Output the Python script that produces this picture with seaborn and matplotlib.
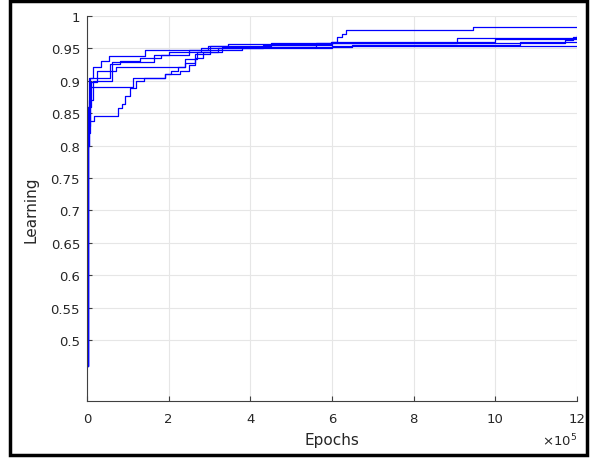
import numpy as np
import pandas as pd
import seaborn as sns
import matplotlib.pyplot as plt
from matplotlib import ticker
from matplotlib.patches import Rectangle

# Training runs (epochs, learning)
run1_x = [0, 2e3, 6e3, 15e3, 35e3, 55e3, 142e3, 296e3, 345e3, 598e3, 612e3, 625e3, 634e3, 945e3, 1.2e6]
run1_y = [0.46, 0.86, 0.905, 0.922, 0.930, 0.939, 0.947, 0.953, 0.957, 0.960, 0.967, 0.972, 0.979, 0.983, 0.983]

run2_x = [0, 2e3, 8e3, 56e3, 80e3, 130e3, 180e3, 250e3, 300e3, 450e3, 905e3, 1.2e6]
run2_y = [0.46, 0.83, 0.905, 0.926, 0.930, 0.935, 0.940, 0.948, 0.953, 0.958, 0.966, 0.971]

run3_x = [0, 2e3, 10e3, 25e3, 70e3, 240e3, 270e3, 330e3, 560e3, 1.17e6, 1.19e6, 1.2e6]
run3_y = [0.46, 0.86, 0.898, 0.915, 0.921, 0.933, 0.945, 0.952, 0.958, 0.963, 0.968, 0.968]

run4_x = [0, 1e3, 5e3, 15e3, 60e3, 165e3, 200e3, 280e3, 430e3, 600e3, 1.0e6, 1.2e6]
run4_y = [0.46, 0.80, 0.87, 0.90, 0.929, 0.940, 0.945, 0.950, 0.955, 0.960, 0.964, 0.964]

run5_x = [0, 2e3, 8e3, 113e3, 191e3, 205e3, 222e3, 240e3, 264e3, 300e3, 380e3, 650e3, 1.06e6, 1.2e6]
run5_y = [0.46, 0.82, 0.89, 0.905, 0.910, 0.915, 0.921, 0.928, 0.941, 0.948, 0.952, 0.955, 0.960, 0.960]

run6_x = [0, 1e3, 5e3, 17e3, 76e3, 85e3, 93e3, 105e3, 120e3, 140e3, 190e3, 228e3, 250e3, 265e3, 285e3, 320e3, 600e3, 1.2e6]
run6_y = [0.46, 0.80, 0.838, 0.846, 0.858, 0.865, 0.877, 0.889, 0.900, 0.905, 0.910, 0.915, 0.925, 0.935, 0.945, 0.950, 0.954, 0.954]

runs = [(run1_x, run1_y), (run2_x, run2_y), (run3_x, run3_y),
        (run4_x, run4_y), (run5_x, run5_y), (run6_x, run6_y)]

df = pd.concat([pd.DataFrame({"Epochs": x, "Learning": y, "run": i})
                for i, (x, y) in enumerate(runs)], ignore_index=True)

sns.set_theme(style="whitegrid")
plt.rcParams['font.family'] = ['DejaVu Sans']

fig = plt.figure(figsize=(5.91, 4.6), dpi=100)
ax = fig.add_axes([87 / 591, 1 - 402 / 460, 490 / 591, 385 / 460])

sns.lineplot(data=df, x="Epochs", y="Learning", units="run", estimator=None,
             color="blue", lw=0.9, drawstyle="steps-post", ax=ax, legend=False)

ax.set_xlim(0, 1.2e6)
ax.set_ylim(0.406, 1.0)
ax.set_yticks([0.5, 0.55, 0.6, 0.65, 0.7, 0.75, 0.8, 0.85, 0.9, 0.95, 1.0])
ax.yaxis.set_major_formatter(ticker.FuncFormatter(lambda v, p: f"{v:g}"))
ax.set_xticks(np.arange(0, 12.1e5, 2e5))
ax.xaxis.set_major_formatter(ticker.FuncFormatter(lambda v, p: f"{v / 1e5:g}"))

txt = "#262626"
ax.grid(True, color="#e6e6e6", lw=0.8)
ax.set_facecolor("white")
for s in ["top", "right"]:
    ax.spines[s].set_visible(False)
for s in ["left", "bottom"]:
    ax.spines[s].set_color("#404040")
    ax.spines[s].set_linewidth(0.8)
ax.tick_params(direction="in", length=3.5, width=0.8, color="#404040",
               labelcolor=txt, labelsize=9.5, left=True, bottom=True, pad=5)
ax.tick_params(axis="x", pad=8)
ax.text(1.0, -0.08, r"$\times10^{5}$", transform=ax.transAxes, ha="right",
        va="top", fontsize=9.5, color=txt)
ax.set_xlabel("Epochs", fontsize=11, color=txt, labelpad=5)
ax.set_ylabel("Learning", fontsize=11, color=txt, labelpad=9)

fig.patches.append(Rectangle((10 / 591, 4 / 460), 577 / 591, 454 / 460,
                             transform=fig.transFigure, fill=False,
                             edgecolor="black", lw=2.5))

fig.savefig("out.png", dpi=100)
